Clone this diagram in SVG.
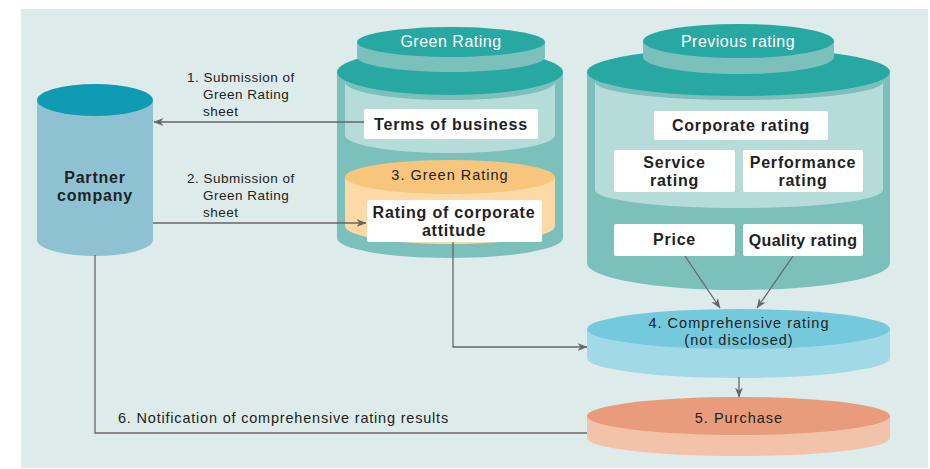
<svg xmlns="http://www.w3.org/2000/svg" width="930" height="469" viewBox="0 0 930 469">
<defs>
<marker id="ah" viewBox="0 0 10 8" refX="9.5" refY="4" markerWidth="10" markerHeight="8" markerUnits="userSpaceOnUse" orient="auto">
<path d="M0,0 L10,4 L0,8 L3,4 Z" fill="#666"/>
</marker>
</defs>
<style>
text{font-family:"Liberation Sans","Noto Sans",sans-serif;fill:#222}
.b{font-weight:bold;font-size:16px;letter-spacing:0.8px}
.n{font-size:14.5px;letter-spacing:1px}
.l{font-size:13.5px;letter-spacing:0.5px}
.w{fill:#fff;font-size:16px;letter-spacing:0.5px}
.box{fill:#fff}
.dk{fill:#27a8a3}
.md{fill:#7cc0bc}
.lt{fill:#b6dcda}
.ln{fill:none;stroke:#666;stroke-width:1.3}
</style>
<rect x="21" y="9" width="907" height="459" fill="#ddeceb"/>

<g id="partner">
<rect x="37" y="100" width="116" height="140" fill="#8ec2d3"/>
<ellipse cx="95" cy="240" rx="58" ry="16" fill="#8ec2d3"/>
<ellipse cx="95" cy="100" rx="58" ry="16" fill="#0f9bb3"/>
<text class="b" x="95" y="183" text-anchor="middle">Partner</text>
<text class="b" x="95" y="201" text-anchor="middle">company</text>
</g>

<g id="green-rating">
<rect class="md" x="337" y="72" width="226" height="166"/>
<ellipse class="md" cx="450" cy="238" rx="113" ry="20"/>
<ellipse class="dk" cx="450" cy="72" rx="113" ry="23"/>
<path class="lt" d="M345,82 A105,18 0 0 0 555,82 L555,135 A105,18 0 0 1 345,135 Z"/>
<rect x="345" y="177" width="210" height="49" fill="#fcd9a5"/>
<ellipse cx="450" cy="226" rx="105" ry="18" fill="#fcd9a5"/>
<ellipse cx="450" cy="177" rx="105" ry="17" fill="#f7c67c"/>
<rect class="md" x="357" y="42" width="188" height="15"/>
<ellipse class="md" cx="451" cy="57" rx="94" ry="15"/>
<ellipse class="dk" cx="451" cy="42" rx="94" ry="15"/>
<text class="w" x="451" y="47" text-anchor="middle">Green Rating</text>
<rect class="box" x="364" y="109" width="174" height="30" rx="2"/>
<text class="b" x="451" y="130" text-anchor="middle">Terms of business</text>
<text class="n" x="450" y="180" text-anchor="middle">3. Green Rating</text>
<rect class="box" x="367" y="200" width="175" height="42" rx="2"/>
<text class="b" x="454" y="218" text-anchor="middle">Rating of corporate</text>
<text class="b" x="454" y="236" text-anchor="middle">attitude</text>
</g>

<g id="previous-rating">
<rect class="md" x="587" y="72" width="303" height="191"/>
<ellipse class="md" cx="738.5" cy="263" rx="151.5" ry="27"/>
<ellipse class="dk" cx="738.5" cy="72" rx="151.5" ry="24"/>
<path class="lt" d="M595,82 A144,18 0 0 0 883,82 L883,190 A144,18 0 0 1 595,190 Z"/>
<rect class="md" x="643" y="41" width="191" height="16"/>
<ellipse class="md" cx="738.5" cy="57" rx="95.5" ry="17"/>
<ellipse class="dk" cx="738.5" cy="41" rx="95.5" ry="17"/>
<text class="w" x="738" y="47" text-anchor="middle">Previous rating</text>
<rect class="box" x="654" y="111" width="174" height="29" rx="2"/>
<text class="b" x="741" y="131" text-anchor="middle">Corporate rating</text>
<rect class="box" x="614" y="150" width="121" height="42" rx="2"/>
<text class="b" x="674.5" y="168" text-anchor="middle">Service</text>
<text class="b" x="674.5" y="186" text-anchor="middle">rating</text>
<rect class="box" x="743" y="150" width="120" height="42" rx="2"/>
<text class="b" x="803" y="168" text-anchor="middle">Performance</text>
<text class="b" x="803" y="186" text-anchor="middle">rating</text>
<rect class="box" x="614" y="224" width="121" height="32" rx="2"/>
<text class="b" x="674.5" y="245" text-anchor="middle">Price</text>
<rect class="box" x="743" y="224" width="120" height="32" rx="2"/>
<text class="b" x="803" y="246" text-anchor="middle" style="letter-spacing:0.4px">Quality rating</text>
</g>

<g id="comprehensive">
<rect x="587" y="329" width="303" height="29" fill="#a2d9e6"/>
<ellipse cx="738.5" cy="358" rx="151.5" ry="20" fill="#a2d9e6"/>
<ellipse cx="738.5" cy="329" rx="151.5" ry="20" fill="#74c9dd"/>
<text class="n" x="739" y="328" text-anchor="middle">4. Comprehensive rating</text>
<text class="n" x="739" y="345" text-anchor="middle">(not disclosed)</text>
</g>

<g id="purchase">
<rect x="587" y="416" width="303" height="22" fill="#f2c3a8"/>
<ellipse cx="738.5" cy="438" rx="151.5" ry="18" fill="#f2c3a8"/>
<ellipse cx="738.5" cy="416" rx="151.5" ry="19" fill="#e99c7b"/>
<text class="n" x="739" y="423" text-anchor="middle">5. Purchase</text>
</g>

<g id="connectors">
<line class="ln" x1="364" y1="122" x2="154" y2="122" marker-end="url(#ah)"/>
<line class="ln" x1="153" y1="223" x2="366" y2="223" marker-end="url(#ah)"/>
<polyline class="ln" points="453,242 453,347 587,347" marker-end="url(#ah)"/>
<line class="ln" x1="685" y1="256" x2="720" y2="308" marker-end="url(#ah)"/>
<line class="ln" x1="793" y1="256" x2="757" y2="308" marker-end="url(#ah)"/>
<line class="ln" x1="739" y1="377" x2="739" y2="397" marker-end="url(#ah)"/>
<polyline class="ln" points="95,255 95,433 587,433"/>
<text class="l" x="187" y="82">1. Submission of</text>
<text class="l" x="203" y="99">Green Rating</text>
<text class="l" x="203" y="116">sheet</text>
<text class="l" x="187" y="183">2. Submission of</text>
<text class="l" x="203" y="200">Green Rating</text>
<text class="l" x="203" y="217">sheet</text>
<text class="l" x="118" y="423" style="font-size:14.5px;letter-spacing:0.8px">6. Notification of comprehensive rating results</text>
</g>
</svg>
